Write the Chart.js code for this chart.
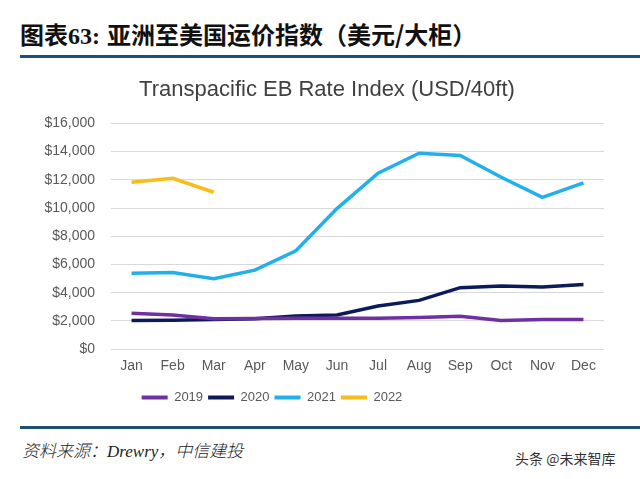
<!DOCTYPE html>
<html>
<head>
<meta charset="utf-8">
<script src="https://cdn.jsdelivr.net/npm/chart.js@4"></script>
<style>
    body { margin: 0; width: 640px; height: 479px; background: #fff; position: relative; overflow: hidden; }
    .head { position: absolute; top: 16px; font-family: "Noto Sans CJK SC", sans-serif; font-weight: bold; font-size: 24px; color: #111; white-space: nowrap; }
    .head .num { font-family: "Liberation Serif", serif; }
    .rule { position: absolute; left: 20px; width: 620px; height: 3px; background: #1f4e79; }
    #chartBox { position: absolute; left: 0; top: 60px; width: 640px; height: 360px; }
    #source { position: absolute; left: 22px; top: 437px; font-family: "Liberation Serif", "Noto Sans CJK SC", serif; font-style: italic; font-weight: 300; font-size: 17px; color: #222; white-space: nowrap; }
    #mark { position: absolute; left: 515px; top: 448px; font-family: "Noto Sans CJK SC", sans-serif; font-size: 14px; color: #333; }
</style>
</head>
<body>
<div class="head" style="left:20px">图表<span class="num">63:</span></div>
<div class="head" style="left:107px">亚洲至美国运价指数（美元/大柜）</div>
<div class="rule" style="top:55px"></div>
<div id="chartBox"><canvas id="rateChart"></canvas></div>
<div class="rule" style="top:426px"></div>
<div id="source">资料来源：Drewry，中信建投</div>
<div id="mark">头条 @未来智库</div>

<script>
// Data
const months = ['Jan', 'Feb', 'Mar', 'Apr', 'May', 'Jun', 'Jul', 'Aug', 'Sep', 'Oct', 'Nov', 'Dec'];
const rate2019 = [2540, 2420, 2150, 2180, 2200, 2200, 2200, 2250, 2330, 2040, 2100, 2110];
const rate2020 = [2040, 2050, 2100, 2150, 2350, 2420, 3060, 3460, 4360, 4480, 4410, 4580];
const rate2021 = [5380, 5430, 5000, 5600, 6970, 9960, 12470, 13890, 13720, 12180, 10760, 11780];
const rate2022 = [11830, 12110, 11120];
const yTicks = [0, 2000, 4000, 6000, 8000, 10000, 12000, 14000, 16000];

const seriesColors = {
    '2019': '#7030a0',
    '2020': '#0d1a5a',
    '2021': '#22b0ea',
    '2022': '#f7bd1c'
};

function makeSet(label, data) {
    return {
        label: label,
        data: data,
        borderColor: seriesColors[label],
        backgroundColor: seriesColors[label],
        borderWidth: 3.5,
        pointRadius: 0,
        tension: 0,
        fill: false
    };
}

// title sits right of centre and legend left of centre in the source
const shiftBoxes = {
    id: 'shiftBoxes',
    afterLayout(chart) {
        const t = chart.titleBlock;
        t.left = 50;
        t.right = 604;
        t.width = 554;
        const lg = chart.legend;
        lg.left = 0;
        lg.right = 544;
        lg.width = 544;
    }
};

const ctx = document.getElementById('rateChart').getContext('2d');

new Chart(ctx, {
    type: 'line',
    data: {
        labels: months,
        datasets: [
            makeSet('2019', rate2019),
            makeSet('2020', rate2020),
            makeSet('2021', rate2021),
            makeSet('2022', rate2022)
        ]
    },
    plugins: [shiftBoxes],
    options: {
        responsive: true,
        maintainAspectRatio: false,
        animation: false,
        layout: { padding: { left: 0, right: 36, top: 0, bottom: 6 } },
        plugins: {
            title: {
                display: true,
                text: 'Transpacific EB Rate Index (USD/40ft)',
                color: '#404040',
                font: { family: 'Liberation Sans', size: 22, weight: 'normal' },
                padding: { top: 17, bottom: 20 }
            },
            legend: {
                position: 'bottom',
                labels: {
                    color: '#595959',
                    font: { family: 'Liberation Sans', size: 13 },
                    boxWidth: 26,
                    boxHeight: 4,
                    padding: 5,
                    generateLabels: (chart) => Chart.defaults.plugins.legend.labels.generateLabels(chart)
                        .map(item => Object.assign(item, { lineWidth: 0 }))
                }
            },
            tooltip: { enabled: false }
        },
        scales: {
            x: {
                offset: true,
                grid: { display: false },
                border: { display: false },
                afterFit: (axis) => { axis.height += 10; },
                ticks: { color: '#595959', font: { family: 'Liberation Sans', size: 14 }, padding: 1 }
            },
            y: {
                min: 0,
                max: 16000,
                afterBuildTicks: (axis) => { axis.ticks = yTicks.map(v => ({ value: v })); },
                afterFit: (axis) => { axis.width = 111; },
                grid: { color: '#d9d9d9', lineWidth: 1, drawTicks: false },
                border: { display: false },
                ticks: {
                    color: '#595959',
                    font: { family: 'Liberation Sans', size: 14 },
                    padding: 16,
                    callback: (v) => '$' + v.toLocaleString('en-US')
                }
            }
        }
    }
});
</script>
</body>
</html>
